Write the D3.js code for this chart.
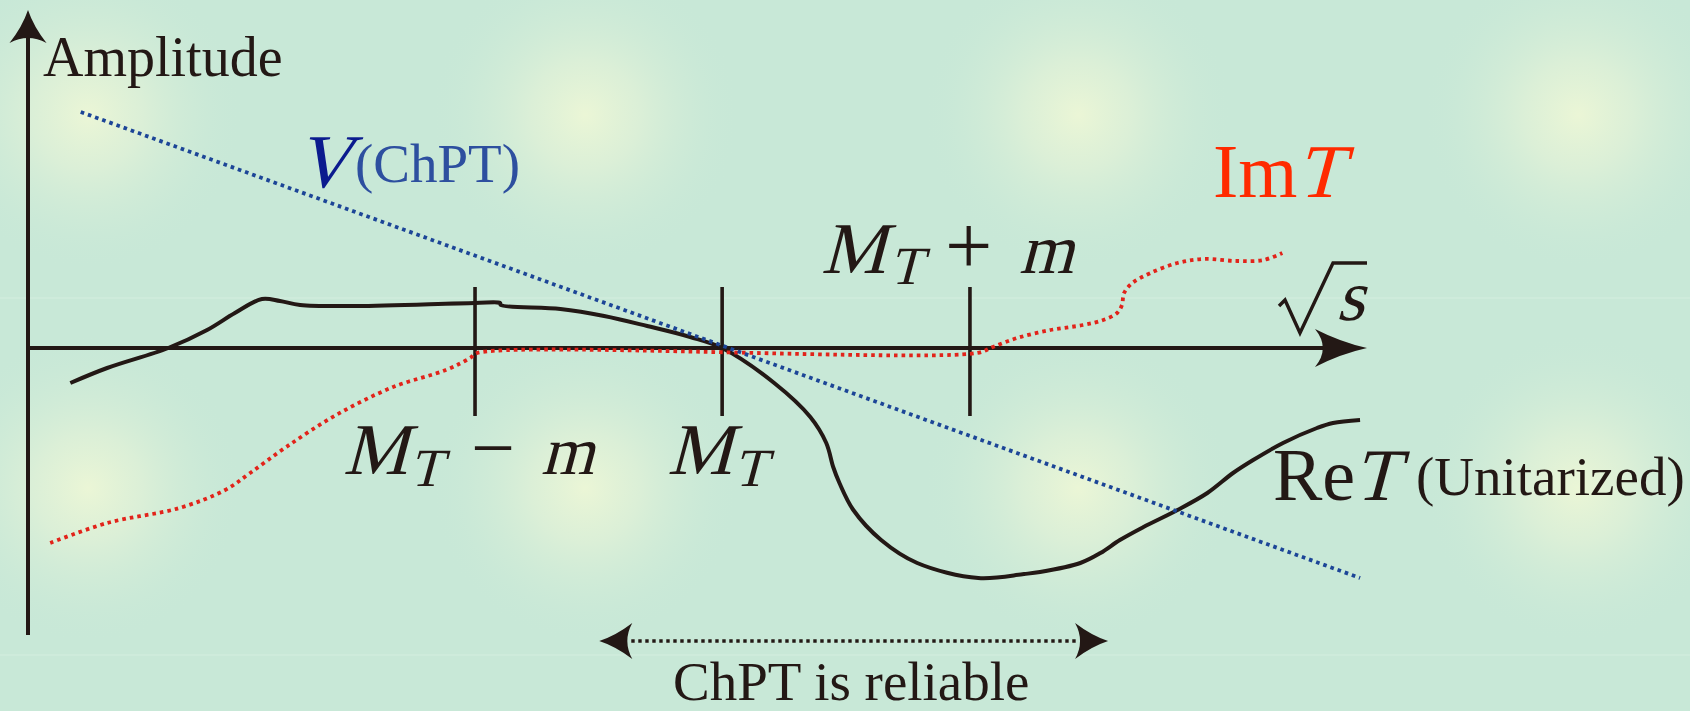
<!DOCTYPE html>
<html>
<head>
<meta charset="utf-8">
<script src="https://cdn.jsdelivr.net/npm/d3@7"></script>
<style>
    body { margin: 0; background: #c8e8d7; }
    #sketch { width: 1690px; height: 711px; overflow: hidden; }
    text { font-family: "Liberation Serif", "Times New Roman", serif; font-weight: normal; }
</style>
</head>
<body>
<div id="sketch"></div>
<script>
// sqrt(s) is in units of M_T, the amplitude in arbitrary units (0 on the sqrt(s) axis)
var tickValues = [0.644, 1.0, 1.357];          // M_T - m, M_T, M_T + m

var reT_x = [0.061, 0.114, 0.202, 0.258, 0.298, 0.337, 0.363, 0.392, 0.474, 0.644, 0.680, 0.681,
             0.767, 0.830, 0.892, 0.954, 1.000, 1.075, 1.127, 1.150, 1.160, 1.169, 1.189, 1.229,
             1.281, 1.369, 1.435, 1.458, 1.516, 1.545, 1.573, 1.607, 1.656, 1.699, 1.736, 1.765,
             1.808, 1.857, 1.880, 1.919];
var reT_y = [-0.35, -0.20, 0.00, 0.18, 0.35, 0.49, 0.47, 0.43, 0.42, 0.45, 0.45, 0.43,
             0.39, 0.32, 0.22, 0.11, 0.00, -0.35, -0.69, -0.95, -1.19, -1.35, -1.62, -1.92,
             -2.15, -2.30, -2.26, -2.24, -2.15, -2.05, -1.92, -1.79, -1.62, -1.45, -1.25, -1.12,
             -0.95, -0.80, -0.75, -0.72];

var imT_x = [0.032, 0.114, 0.218, 0.284, 0.320, 0.372, 0.444, 0.526, 0.602, 0.637, 0.647,
             1.367, 1.390, 1.425, 1.473, 1.520, 1.549, 1.569, 1.576, 1.579, 1.591, 1.617,
             1.656, 1.693, 1.742, 1.780, 1.807];
var imT_y = [-1.95, -1.75, -1.60, -1.42, -1.25, -0.99, -0.67, -0.39, -0.22, -0.10, -0.05,
             -0.05, 0.01, 0.10, 0.18, 0.23, 0.28, 0.35, 0.43, 0.55, 0.65, 0.75,
             0.85, 0.89, 0.87, 0.88, 0.95];

var v_x = [0.076, 1.919];
var v_y = [2.36, -2.30];

var reliableRange = [0.823, 1.556];   // where ChPT is reliable
var reliableLevel = -2.93;

function AmplitudeSketch() {
    var self = this;
    self.init();
};

AmplitudeSketch.prototype.init = function () {
    var self = this;

    self.svgWidth = 1690;
    self.svgHeight = 711;
    self.ink = '#231815';

    self.svg = d3.select('#sketch')
        .append('svg')
        .attr('width', self.svgWidth)
        .attr('height', self.svgHeight);

    self.xScale = d3.scaleLinear().domain([0, 1.929]).range([28, 1367]);
    self.yScale = d3.scaleLinear().domain([-2.87, 3.38]).range([635, 10]);
};

AmplitudeSketch.prototype.drawBackground = function () {
    var self = this;

    var glow = self.svg.append('defs')
        .append('radialGradient')
        .attr('id', 'glow');
    glow.append('stop').attr('offset', '0%').attr('stop-color', '#ebf6d6');
    glow.append('stop').attr('offset', '35%').attr('stop-color', '#e0f1d7').attr('stop-opacity', 0.8);
    glow.append('stop').attr('offset', '70%').attr('stop-color', '#d2ecd7').attr('stop-opacity', 0.45);
    glow.append('stop').attr('offset', '100%').attr('stop-color', '#c8e8d7').attr('stop-opacity', 0);

    self.svg.append('rect')
        .attr('width', self.svgWidth)
        .attr('height', self.svgHeight)
        .attr('fill', '#c8e8d7');

    var centers = [];
    [115, 488].forEach(function (cy) {
        [88, 585, 1078, 1578].forEach(function (cx) { centers.push([cx, cy]); });
    });

    self.svg.selectAll('circle.glow')
        .data(centers)
        .enter()
        .append('circle')
        .attr('class', 'glow')
        .attr('cx', function (d) { return d[0]; })
        .attr('cy', function (d) { return d[1]; })
        .attr('r', 155)
        .attr('fill', 'url(#glow)');

    // faint seams of the tiled backdrop
    self.svg.selectAll('line.seam')
        .data([298, 655])
        .enter()
        .append('line')
        .attr('class', 'seam')
        .attr('x1', 0)
        .attr('x2', self.svgWidth)
        .attr('y1', function (d) { return d; })
        .attr('y2', function (d) { return d; })
        .attr('stroke', '#d4eee0')
        .attr('stroke-width', 1.2);
};

AmplitudeSketch.prototype.arrowHead = function (x, y, angle, len, half) {
    var self = this;
    var p = 'M0,0 Q' + (-0.5 * len) + ',' + (-0.3 * half) + ' ' + (-len) + ',' + (-half)
        + ' Q' + (-0.7 * len) + ',0 ' + (-len) + ',' + half
        + ' Q' + (-0.5 * len) + ',' + (0.3 * half) + ' 0,0Z';
    self.svg.append('path')
        .attr('d', p)
        .attr('transform', 'translate(' + x + ',' + y + ') rotate(' + angle + ')')
        .attr('fill', self.ink);
};

AmplitudeSketch.prototype.drawAxes = function () {
    var self = this;
    var x0 = self.xScale(0), y0 = self.yScale(0);
    var yTop = self.yScale.range()[1], yBottom = self.yScale.range()[0];
    var xEnd = self.xScale.range()[1];

    self.svg.append('line')
        .attr('x1', x0).attr('x2', x0)
        .attr('y1', yBottom).attr('y2', yTop + 25)
        .attr('stroke', self.ink).attr('stroke-width', 4);
    self.arrowHead(x0, yTop, -90, 33, 18.5);

    self.svg.append('line')
        .attr('x1', x0).attr('x2', xEnd - 40)
        .attr('y1', y0).attr('y2', y0)
        .attr('stroke', self.ink).attr('stroke-width', 4);
    self.arrowHead(xEnd, y0, 0, 52, 19);

    self.svg.selectAll('line.tick')
        .data(tickValues)
        .enter()
        .append('line')
        .attr('class', 'tick')
        .attr('x1', function (d) { return self.xScale(d); })
        .attr('x2', function (d) { return self.xScale(d); })
        .attr('y1', self.yScale(0.61))
        .attr('y2', self.yScale(-0.68))
        .attr('stroke', self.ink)
        .attr('stroke-width', 3.6);
};

AmplitudeSketch.prototype.drawCurves = function () {
    var self = this;

    var line = d3.line()
        .x(function (d) { return self.xScale(d[0]); })
        .y(function (d) { return self.yScale(d[1]); });

    self.svg.append('path')
        .attr('d', line.curve(d3.curveCatmullRom.alpha(0.5))(d3.zip(reT_x, reT_y)))
        .attr('fill', 'none')
        .attr('stroke', self.ink)
        .attr('stroke-width', 4);

    self.svg.append('path')
        .attr('d', line.curve(d3.curveCatmullRom.alpha(0.5))(d3.zip(imT_x, imT_y)))
        .attr('fill', 'none')
        .attr('stroke', '#e2231a')
        .attr('stroke-width', 3.8)
        .attr('stroke-dasharray', '3.6 4');

    self.svg.append('path')
        .attr('d', line.curve(d3.curveLinear)(d3.zip(v_x, v_y)))
        .attr('fill', 'none')
        .attr('stroke', '#1c4597')
        .attr('stroke-width', 3.8)
        .attr('stroke-dasharray', '3.6 4');

    // range where ChPT can be trusted
    var ya = self.yScale(reliableLevel);
    var xa = self.xScale(reliableRange[0]), xb = self.xScale(reliableRange[1]);
    self.svg.append('line')
        .attr('x1', xa + 32).attr('x2', xb - 32)
        .attr('y1', ya).attr('y2', ya)
        .attr('stroke', self.ink)
        .attr('stroke-width', 3.4)
        .attr('stroke-dasharray', '3.4 3.6');
    self.arrowHead(xa, ya, 180, 33, 18);
    self.arrowHead(xb, ya, 0, 33, 18);
};

// parts: [text, dx, dy, size, italic]
// italic is faked with a skew: the serif italic face is not available here
AmplitudeSketch.prototype.mathText = function (x, y, parts, color) {
    var self = this;
    parts.forEach(function (p) {
        self.svg.append('text')
            .attr('transform', 'translate(' + (x + p[1]) + ',' + (y + p[2]) + ')' + (p[4] ? ' skewX(-15)' : ''))
            .attr('font-size', p[3])
            .attr('fill', color || self.ink)
            .text(p[0]);
    });
};

AmplitudeSketch.prototype.drawLabels = function () {
    var self = this;

    self.svg.append('text')
        .attr('x', 43).attr('y', 76)
        .attr('font-size', 56)
        .attr('fill', self.ink)
        .text('Amplitude');

    self.mathText(296, 187, [['V', 0, 0, 76, true]], '#0b1b8e');
    self.mathText(355, 182, [['(ChPT)', 0, 0, 55, false]], '#2d4f9f');

    self.mathText(1213, 197, [['Im', 0, 0, 76, false], ['T', 83, 0, 76, true]], '#ff2a00');

    self.mathText(1273, 500, [['Re', 0, 0, 74, false], ['T', 80, 0, 74, true]]);
    self.mathText(1416, 495, [['(Unitarized)', 0, 0, 55, false]]);

    // sqrt(s)
    self.svg.append('path')
        .attr('d', 'M1279,306 L1285,300 L1300,333 L1333,263 L1367,263')
        .attr('fill', 'none')
        .attr('stroke', self.ink)
        .attr('stroke-width', 3.4)
        .attr('stroke-linejoin', 'miter');
    self.mathText(1336, 320, [['s', 0, 0, 72, true]]);

    var tickX = tickValues.map(self.xScale);
    self.mathText(tickX[0] - 132, 474, [
        ['M', 0, 0, 73, true], ['T', 66, 12, 54, true],
        ['\u2212', 128, 0, 78, false], ['m', 198, 0, 68, true]]);
    self.mathText(tickX[1] - 55, 474, [
        ['M', 0, 0, 73, true], ['T', 66, 12, 54, true]]);
    self.mathText(tickX[2] - 149, 273, [
        ['M', 0, 0, 73, true], ['T', 68, 11, 54, true],
        ['+', 124, 1, 84, false], ['m', 198, 0, 70, true]]);

    self.svg.append('text')
        .attr('x', 673).attr('y', 700)
        .attr('font-size', 55)
        .attr('fill', self.ink)
        .text('ChPT is reliable');
};

AmplitudeSketch.prototype.update = function () {
    var self = this;
    self.drawBackground();
    self.drawAxes();
    self.drawCurves();
    self.drawLabels();
};

var sketch = new AmplitudeSketch();
sketch.update();
</script>
</body>
</html>
